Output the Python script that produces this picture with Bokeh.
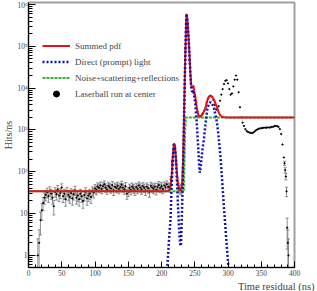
import math
from bokeh.plotting import figure
from bokeh.models import (ColumnDataSource, FixedTicker, CustomJSTickFormatter,
                          Legend, LegendItem, Title, Range1d)
from bokeh.embed import file_html
from bokeh.resources import INLINE

# ---------------- data ----------------
# Laserball data, left part (2 ns bins)
t_data_left = list(range(14, 216, 2))
hits_left = [1.0, 2.0, 7, 12, 18, 24, 28, 32, 26, 35,
             30, 24, 15, 33, 29, 38, 27, 31, 42, 26,
             30, 22, 34, 28, 25, 31, 23, 29, 36, 24,
             27, 22, 30, 26, 20, 28, 33, 23, 27, 30,
             25, 35, 32, 40, 37, 44, 41, 47, 39, 45,
             50, 42, 38, 46, 43, 40, 48, 36, 44, 41,
             46, 39, 43, 49, 42, 38, 45, 30, 34, 41,
             37, 44, 40, 36, 43, 39, 47, 42, 38, 45,
             41, 36, 44, 40, 33, 46, 42, 39, 44, 37,
             43, 48, 41, 45, 39, 47, 43, 50, 44, 42,
             65]
# Laserball data, right part
t_data_right = [216, 218, 220, 222, 224, 226, 228, 230, 232, 234, 236, 238, 240, 242,
                244, 246, 248, 250, 252, 254, 256, 258, 260, 262, 264, 266, 268, 270,
                272, 274, 276, 278, 280, 282, 284, 286, 288, 290, 292, 294, 296, 298,
                300, 302, 304, 306, 308, 310, 312, 314, 316, 318, 320, 322, 324, 326,
                328, 330, 332, 334, 336, 338, 340, 342, 344, 346, 348, 350, 352, 354,
                356, 358, 360, 362, 364, 366, 368, 370, 372, 374, 376, 378, 380, 382,
                384, 385, 386, 387, 388, 389, 390, 391]
hits_right = [170, 450, 400, 170, 60, 42, 38, 40, 110, 2600, 85000, 550000, 180000, 45000,
              14000, 10500, 11000, 7000, 4500, 2800, 2200, 2100, 2200, 2450, 2900, 3400, 4600, 5700,
              6400, 6600, 6200, 5200, 4000, 3100, 3000, 3700, 5000, 7000, 9500, 12500, 15000, 15500,
              13000, 9500, 7000, 7500, 11000, 16000, 20000, 16000, 8000, 3500, 2000, 1500, 1250, 1050,
              950, 900, 870, 850, 840, 870, 920, 980, 1030, 1060, 1090, 1100, 1120, 1130,
              1140, 1130, 1150, 1140, 1160, 1180, 1200, 1240, 1250, 1230, 1180, 1050, 800, 450,
              220, 160, 110, 77, 34, 4.6, 2, 1]

# Summed pdf
t_sum = [0, 205, 208, 210, 212, 213.5, 215, 216, 217, 218, 219, 220, 221, 222, 223, 224,
         225, 226, 227, 228, 229, 230, 231, 232, 233, 234, 235, 236, 237, 237.6, 238.5,
         239.5, 240.5, 241.5, 242.5, 243.5, 244.5, 245.5, 247, 248, 249, 251, 253, 255,
         256.5, 258, 260, 263, 266, 268.7, 271, 273.7, 276, 279, 282, 284, 286, 288, 290,
         292, 295, 300, 400]
pdf_sum = [34, 34, 34, 35, 38, 41, 70, 125, 235, 375, 475, 435, 305, 185, 105, 67,
           48, 40, 37, 36, 36, 38, 48, 105, 430, 2500, 17000, 82000, 350000, 600000, 500000,
           330000, 180000, 97000, 47000, 22000, 13000, 10500, 10500, 11000, 9000, 6000, 3500, 2400,
           2150, 2100, 2200, 2600, 3300, 5000, 6100, 6600, 6300, 5300, 4000, 3300, 2650, 2300, 2120,
           2040, 2010, 2000, 2000]

# Direct (prompt) light
t_direct = [208.5, 210, 212, 213.5, 215, 216, 217, 218, 219, 220, 221, 222, 223, 224, 225,
            226, 227, 228, 228.8, 229.5, 230, 231, 232, 233, 234, 235, 236, 237, 237.6,
            238.5, 239.5, 240.5, 241.5, 242.5, 243.5, 244.5, 245.5, 247, 248, 249, 251, 253,
            255, 256.5, 257.6, 259, 260, 262, 263.6, 266, 268.7, 271, 273.7, 276, 279, 282,
            284, 286, 288, 290, 292, 294, 296, 298, 300, 301]
pdf_direct = [0.45, 1.1, 3.5, 7, 35, 90, 200, 340, 440, 400, 270, 150, 70, 32, 13,
              6, 3, 1.9, 1.67, 2.2, 4, 15, 70, 400, 2500, 15000, 80000, 350000, 600000,
              500000, 330000, 180000, 95000, 45000, 20000, 11000, 8500, 8300, 8800, 7000, 4000, 1500,
              450, 160, 95, 130, 200, 380, 580, 1300, 3000, 4100, 4650, 4300, 3300, 2000,
              1300, 650, 300, 120, 40, 13, 5, 1.8, 0.7, 0.45]

# Noise + scattering + reflections
t_noise = [0, 233.5, 234.5, 235.5, 236.5, 237.5, 400]
pdf_noise = [34, 34, 150, 900, 1950, 2000, 2000]

x_ticks = [0, 50, 100, 150, 200, 250, 300, 350, 400]
x_minor = list(range(0, 401, 10))

# Poisson-like error bars for the data (only drawn where they are visible)
t_all = t_data_left + t_data_right
h_all = hits_left + hits_right
err = [math.sqrt(v * 2.2) for v in h_all]
lo = [max(v - e, 0.01) for v, e in zip(h_all, err)]
hi = [v + e for v, e in zip(h_all, err)]
keep = [i for i, v in enumerate(h_all) if v < 200]

data_src = ColumnDataSource(dict(t=t_all, h=h_all))
err_src = ColumnDataSource(dict(t=[t_all[i] for i in keep],
                                lo=[lo[i] for i in keep],
                                hi=[hi[i] for i in keep]))

FONT = "Liberation Serif"

p = figure(width=317, height=291, y_axis_type="log",
           x_range=Range1d(0, 400), y_range=Range1d(0.513, 1.12e6),
           output_backend="svg", toolbar_location=None,
           min_border_left=28, min_border_right=23, min_border_top=2, min_border_bottom=23)
p.grid.visible = False
p.background_fill_color = "white"
p.border_fill_color = "white"
p.outline_line_color = "#a0a0a0"
p.outline_line_width = 2

# axes
xa = p.xaxis[0]
xa.ticker = FixedTicker(ticks=x_ticks, minor_ticks=x_minor)
xa.major_tick_in = 6
xa.major_tick_out = 0
xa.minor_tick_in = 3
xa.minor_tick_out = 0
xa.major_label_text_font = FONT
xa.major_label_text_font_size = "7.5px"
xa.major_label_standoff = 2
xa.axis_line_color = "black"

ya = p.yaxis[0]
ya.major_tick_in = 7
ya.major_tick_out = 0
ya.minor_tick_in = 4
ya.minor_tick_out = 0
ya.major_label_text_font = FONT
ya.major_label_text_font_size = "7.5px"
ya.major_label_standoff = 1
ya.axis_label = "Hits/ns"
ya.axis_label_text_font = FONT
ya.axis_label_text_font_size = "10px"
ya.axis_label_text_font_style = "normal"
ya.axis_label_standoff = 0
ya.formatter = CustomJSTickFormatter(code="""
const e = Math.round(Math.log10(tick));
if (e == 0) return "1";
if (e == 1) return "10";
const sup = {"-":"\u207b","0":"\u2070","1":"\u00b9","2":"\u00b2","3":"\u00b3","4":"\u2074",
             "5":"\u2075","6":"\u2076","7":"\u2077","8":"\u2078","9":"\u2079"};
return "10" + String(e).split("").map(c => sup[c]).join("");
""")

# data: error bars + points
p.segment(x0="t", y0="lo", x1="t", y1="hi", source=err_src, line_color="#666666", line_width=0.7)
p.scatter(x="t", y="hi", source=err_src, marker="dash", size=3, line_color="#666666", line_width=0.7)
p.scatter(x="t", y="lo", source=err_src, marker="dash", size=3, line_color="#666666", line_width=0.7)
p.scatter(x="t", y="h", source=data_src, size=1.3, color="black")

# curves
r_noise = p.line(t_noise, pdf_noise, line_color="#2eb82e", line_width=2, line_dash="3 1")
r_sum = p.line(t_sum, pdf_sum, line_color="#e8101a", line_width=2)
r_dir = p.line(t_direct, pdf_direct, line_color="#1414a8", line_width=2.5, line_dash="2 2")
r_leg = p.scatter(x=[-1000], y=[1], size=5, color="black")

legend = Legend(items=[LegendItem(label="Summed pdf", renderers=[r_sum]),
                       LegendItem(label="Direct (prompt) light", renderers=[r_dir]),
                       LegendItem(label="Noise+scattering+reflections", renderers=[r_noise]),
                       LegendItem(label="Laserball run at center", renderers=[r_leg])],
                location=(14, 166), glyph_width=28, glyph_height=15, label_height=15,
                label_standoff=5, spacing=1, padding=0, margin=0,
                border_line_color=None, background_fill_alpha=0,
                label_text_font=FONT, label_text_font_size="9px")
p.add_layout(legend, "center")

# x-axis title, right aligned under the axis
p.add_layout(Title(text="Time residual (ns)", align="right", text_font=FONT,
                   text_font_size="10.5px", text_font_style="normal", standoff=0,
                   offset=-20), "below")

open("out.html", "w").write(file_html(p, INLINE))
